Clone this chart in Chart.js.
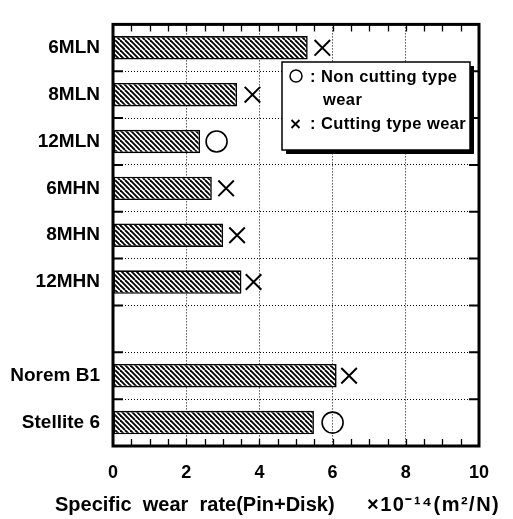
<!DOCTYPE html>
<html><head><meta charset="utf-8">
<script src="https://cdn.jsdelivr.net/npm/chart.js@4.4.1/dist/chart.umd.min.js"></script>
<style>html,body{margin:0;padding:0;background:#fff}canvas{display:block}</style>
</head><body>
<canvas id="c" width="513" height="519"></canvas>
<script>
// ---- data ----
const categories = ['6MLN', '8MLN', '12MLN', '6MHN', '8MHN', '12MHN', '', 'Norem B1', 'Stellite 6'];
const wearRate   = [5.32, 3.39, 2.38, 2.70, 3.01, 3.51, null, 6.11, 5.49];
const markerValue = [5.72, 3.81, 2.83, 3.09, 3.39, 3.84, null, 6.45, 6.00];
const wearType   = ['cut', 'cut', 'non', 'cut', 'cut', 'cut', null, 'cut', 'non'];
const xTickValues = [0, 2, 4, 6, 8, 10];
const axisTitle = 'Specific  wear  rate(Pin+Disk)';
const axisUnit = '×10⁻¹⁴(m²/N)';
const legendLines = [': Non cutting type', 'wear', ': Cutting type wear'];

const FONT = '"Liberation Sans", Arial, sans-serif';

function hatchPattern() {
  const s = 10;
  const c = document.createElement('canvas');
  c.width = s; c.height = s;
  const g = c.getContext('2d');
  g.fillStyle = '#fff'; g.fillRect(0, 0, s, s);
  g.strokeStyle = '#000'; g.lineWidth = 1.9;
  for (let k = -s; k <= s; k += 5) {
    g.beginPath(); g.moveTo(k, 0); g.lineTo(k + s, s); g.stroke();
  }
  return g.createPattern(c, 'repeat');
}

const cutPoints = [], nonPoints = [];
categories.forEach((c, i) => {
  if (markerValue[i] == null) return;
  (wearType[i] === 'cut' ? cutPoints : nonPoints).push({ x: markerValue[i], y: c });
});

const framePlugin = {
  id: 'frame',
  afterDatasetsDraw(chart) {
    const { ctx, chartArea: a, scales: { x, y } } = chart;
    ctx.save();
    ctx.strokeStyle = '#000';
    ctx.lineWidth = 1.3;
    ctx.beginPath();
    for (let v = 0.5; v < 10; v += 0.5) {
      const px = Math.round(x.getPixelForValue(v)) + 0.5;
      const len = 7;
      ctx.moveTo(px, a.top); ctx.lineTo(px, a.top + len);
      ctx.moveTo(px, a.bottom); ctx.lineTo(px, a.bottom - len);
    }
    ctx.stroke();
    ctx.lineWidth = 2;
    ctx.beginPath();
    for (let i = 1; i < categories.length; i++) {
      const py = (y.getPixelForValue(i - 1) + y.getPixelForValue(i)) / 2;
      ctx.moveTo(a.left, py); ctx.lineTo(a.left + 10, py);
      ctx.moveTo(a.right, py); ctx.lineTo(a.right - 10, py);
    }
    ctx.stroke();
    ctx.lineWidth = 3;
    ctx.strokeRect(a.left, a.top, a.width, a.height);
    ctx.restore();
  },
  afterDraw(chart) {
    const { ctx } = chart;
    ctx.save();
    // legend box with shadow
    const bx = 282, by = 62, bw = 188, bh = 88;
    ctx.fillStyle = '#000';
    ctx.fillRect(bx + 4, by + 4, bw, bh);
    ctx.fillStyle = '#fff';
    ctx.fillRect(bx, by, bw, bh);
    ctx.strokeStyle = '#000';
    ctx.lineWidth = 1.5;
    ctx.strokeRect(bx, by, bw, bh);
    // symbols
    ctx.beginPath();
    ctx.arc(296, 76, 6, 0, Math.PI * 2);
    ctx.stroke();
    ctx.lineWidth = 1.8;
    ctx.beginPath();
    ctx.moveTo(291.5, 120); ctx.lineTo(299.5, 128);
    ctx.moveTo(299.5, 120); ctx.lineTo(291.5, 128);
    ctx.stroke();
    ctx.fillStyle = '#000';
    ctx.font = 'bold 16.5px ' + FONT;
    ctx.textBaseline = 'middle';
    ctx.textAlign = 'left';
    ctx.letterSpacing = '0.4px';
    ctx.fillText(legendLines[0], 310, 77);
    ctx.fillText(legendLines[1], 323, 100);
    ctx.fillText(legendLines[2], 310, 124);
    // axis title
    ctx.letterSpacing = '0px';
    ctx.font = 'bold 20px ' + FONT;
    ctx.textBaseline = 'middle';
    ctx.fillText(axisTitle, 55, 505);
    ctx.letterSpacing = '1.5px';
    ctx.fillText(axisUnit, 367, 505);
    ctx.restore();
  }
};

new Chart(document.getElementById('c'), {
  type: 'bar',
  data: {
    labels: categories,
    datasets: [
      {
        type: 'scatter', label: 'Cutting type wear', data: cutPoints,
        pointStyle: 'crossRot', pointRadius: 11, pointBorderWidth: 2,
        borderColor: '#000', backgroundColor: '#000'
      },
      {
        type: 'scatter', label: 'Non cutting type wear', data: nonPoints,
        pointStyle: 'circle', pointRadius: 10.5, pointBorderWidth: 1.6,
        borderColor: '#000', backgroundColor: 'rgba(255,255,255,0)'
      },
      {
        type: 'bar', label: 'Specific wear rate', data: wearRate,
        backgroundColor: hatchPattern(), borderColor: '#000', borderWidth: 1.6,
        barPercentage: 0.5, categoryPercentage: 1, borderSkipped: false
      }
    ]
  },
  options: {
    indexAxis: 'y',
    responsive: false,
    animation: false,
    devicePixelRatio: 1,
    layout: { padding: { left: 0, right: 34, top: 10, bottom: 0 } },
    plugins: { legend: { display: false }, tooltip: { enabled: false } },
    scales: {
      x: {
        type: 'linear', position: 'bottom', min: 0, max: 10,
        afterBuildTicks(s) { s.ticks = xTickValues.map(v => ({ value: v })); },
        afterFit(s) { s.height = 73; },
        border: { display: false, dash: [1, 2] },
        grid: { color: '#000', lineWidth: 1, drawTicks: false },
        ticks: { color: '#000', font: { family: FONT, size: 18, weight: 'bold' }, padding: 16, maxRotation: 0 }
      },
      y: {
        type: 'category', position: 'left', offset: true,
        afterFit(s) { s.width = 113; },
        border: { display: false, dash: [1, 2] },
        grid: { offset: true, color: '#000', lineWidth: 1, drawTicks: false },
        ticks: { color: '#000', font: { family: FONT, size: 19, weight: 'bold' }, padding: 13 }
      }
    }
  },
  plugins: [framePlugin]
});
</script>
</body></html>
